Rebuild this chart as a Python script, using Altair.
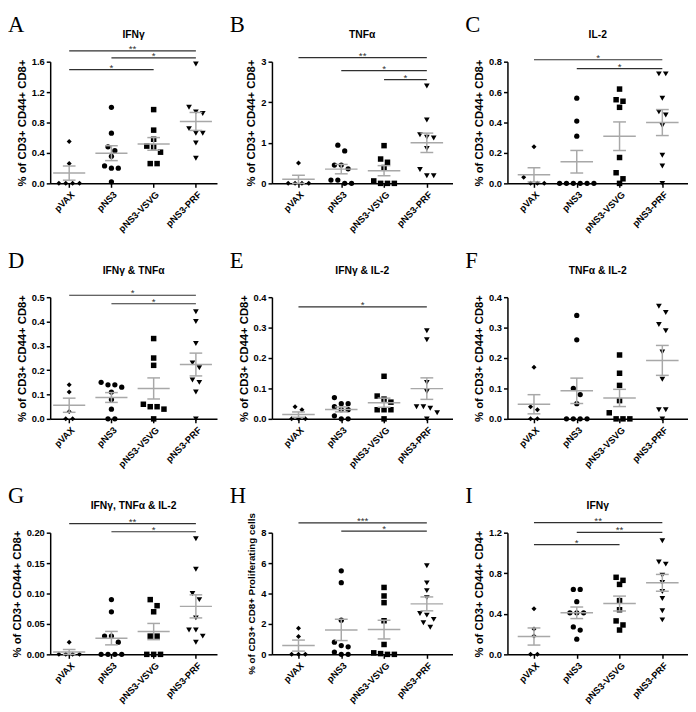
import altair as alt
import pandas as pd
import numpy as np

# ---------------- data ----------------
groups = ["pVAX", "pNS3", "pNS3-VSVG", "pNS3-PRF"]
shapes = ["diamond", "circle", "square", "triangle-down"]

letters = ["A", "B", "C", "D", "E", "F", "G", "H", "I"]
panel_titles = ["IFNγ", "TNFα", "IL-2",
                "IFNγ & TNFα", "IFNγ & IL-2", "TNFα & IL-2",
                "IFNγ, TNFα & IL-2", "", "IFNγ"]
y_titles = ["% of CD3+ CD44+ CD8+"] * 7 + ["% of CD3+ CD8+ Proliferating cells",
                                         "% of CD3+ CD44+ CD4+"]
y_max = [1.6, 3, 0.8, 0.5, 0.4, 0.4, 0.20, 8, 1.2]
y_step = [0.4, 1, 0.2, 0.1, 0.1, 0.1, 0.05, 2, 0.4]
y_fmt = [".1f", "d", ".1f", ".1f", ".1f", ".1f", ".2f", "d", ".1f"]

# values per group: pVAX, pNS3, pNS3-VSVG, pNS3-PRF
A_vals = [[0.55, 0.26, 0, 0, 0, 0],
          [1.00, 0.66, 0.48, 0.43, 0.355, 0.23, 0.20, 0.20, 0.02],
          [0.97, 0.70, 0.58, 0.49, 0.48, 0.41, 0.26, 0.26],
          [1.57, 1.00, 0.94, 0.92, 0.72, 0.66, 0.66, 0.53, 0.33]]
B_vals = [[0.50, 0, 0, 0, 0],
          [0.94, 0.80, 0.45, 0.45, 0.36, 0.08, 0.08, 0, 0],
          [0.93, 0.60, 0.52, 0.39, 0.06, 0, 0, 0],
          [2.40, 1.56, 1.20, 1.12, 1.14, 0.86, 0.34, 0.19, 0.19]]
C_vals = [[0.24, 0.04, 0, 0, 0],
          [0.56, 0.41, 0.31, 0, 0, 0, 0, 0, 0],
          [0.62, 0.55, 0.54, 0.50, 0.17, 0.07, 0.03, 0],
          [0.72, 0.72, 0.56, 0.47, 0.45, 0.38, 0.185, 0.114, 0]]
D_vals = [[0.14, 0.11, 0.03, 0, 0],
          [0.15, 0.14, 0.14, 0.13, 0.11, 0.08, 0.04, 0, 0],
          [0.33, 0.25, 0.22, 0.06, 0.05, 0.04, 0.05, 0],
          [0.44, 0.40, 0.31, 0.23, 0.21, 0.15, 0.16, 0.11, 0]]
E_vals = [[0.04, 0.03, 0, 0, 0],
          [0.07, 0.05, 0.05, 0.04, 0.03, 0.03, 0.01, 0, 0],
          [0.14, 0.075, 0.065, 0.055, 0.03, 0.03, 0.03, 0],
          [0.29, 0.26, 0.12, 0.09, 0.04, 0.04, 0.035, 0.02, 0]]
F_vals = [[0.17, 0.04, 0.03, 0, 0],
          [0.34, 0.26, 0.10, 0.08, 0.05, 0, 0, 0, 0],
          [0.21, 0.15, 0.11, 0.06, 0.02, 0, 0, 0],
          [0.37, 0.35, 0.31, 0.29, 0.22, 0.13, 0.03, 0.03, 0]]
G_vals = [[0.02, 0, 0, 0, 0],
          [0.09, 0.07, 0.03, 0.03, 0.02, 0, 0, 0, 0],
          [0.09, 0.08, 0.07, 0.03, 0.03, 0, 0, 0],
          [0.19, 0.14, 0.10, 0.09, 0.06, 0.04, 0.04, 0.03, 0.02]]
H_vals = [[1.71, 1.17, 0, 0, 0],
          [5.49, 4.71, 2.25, 0.80, 0.58, 0.50, 0.15, 0, 0],
          [4.40, 3.84, 3.40, 2.21, 0.65, 0.10, 0.05, 0, 0],
          [5.83, 4.70, 4.19, 3.73, 2.69, 2.58, 2.30, 2.08, 1.78]]
I_vals = [[0.45, 0.25, 0.18, 0, 0],
          [0.64, 0.64, 0.52, 0.41, 0.41, 0.41, 0.27, 0.24, 0.15],
          [0.76, 0.73, 0.69, 0.53, 0.44, 0.33, 0.29, 0.24],
          [1.12, 0.91, 0.89, 0.78, 0.71, 0.62, 0.55, 0.43, 0.34]]
all_vals = [A_vals, B_vals, C_vals, D_vals, E_vals, F_vals, G_vals, H_vals, I_vals]

# significance brackets: (from group, to group, bracket height in data units, label)
A_sig = [(0, 3, 1.742, "**"), (1, 3, 1.65, "*"), (0, 2, 1.495, "*")]
B_sig = [(0, 3, 3.10, "**"), (1, 3, 2.78, "*"), (2, 3, 2.56, "*")]
C_sig = [(0, 3, 0.813, "*"), (1, 3, 0.755, "*")]
D_sig = [(0, 3, 0.508, "*"), (1, 3, 0.473, "*")]
E_sig = [(0, 3, 0.368, "*")]
F_sig = []
G_sig = [(0, 3, 0.215, "**"), (1, 3, 0.2016, "*")]
H_sig = [(0, 3, 8.64, "***"), (1, 3, 8.10, "*")]
I_sig = [(0, 3, 1.30, "**"), (1, 3, 1.203, "**"), (0, 2, 1.083, "*")]
all_sig = [A_sig, B_sig, C_sig, D_sig, E_sig, F_sig, G_sig, H_sig, I_sig]

# ---------------- layout ----------------
COL_W = [170, 184, 184]
COL_DOM = [(-0.45, 3.5), (-0.62, 3.6), (-0.62, 3.6)]
H = 124
FONT = "Liberation Sans"
GRAY = "#a8a8a8"


def swarm(vals, ymax, ppu, d_px=7.0):
    """Spread points that would overlap into symmetric rows (GraphPad style)."""
    order = sorted(range(len(vals)), key=lambda k: -vals[k])
    rows = []
    for k in order:
        ypx = vals[k] / ymax * H
        if rows and abs(rows[-1][0] - ypx) < d_px * 0.9:
            rows[-1][1].append(k)
        else:
            rows.append([ypx, [k]])
    offs = [0.0] * len(vals)
    for _, members in rows:
        n = len(members)
        for j, k in enumerate(members):
            offs[k] = (j - (n - 1) / 2) * d_px / ppu
    return offs


label_expr = "[" + ",".join("'%s'" % g for g in groups) + "][datum.value]"


def make_panel(p):
    col = p % 3
    W = COL_W[col]
    xmin, xmax = COL_DOM[col]
    ppu = W / (xmax - xmin)
    vals = all_vals[p]
    ymax = y_max[p]
    pts, stats = [], []
    for g, lst in enumerate(vals):
        offs = swarm(lst, ymax, ppu)
        for v, o in zip(lst, offs):
            pts.append({"grp": groups[g], "x": g + o, "value": v})
        arr = np.array(lst, dtype=float)
        m = float(arr.mean())
        s = float(arr.std(ddof=1) / np.sqrt(len(arr)))
        stats.append({"gi": g, "mean": m, "lo": m - s, "hi": m + s,
                      "m1": g - 0.38, "m2": g + 0.38})
    pts = pd.DataFrame(pts)
    stats = pd.DataFrame(stats)
    caps = pd.concat([
        stats.assign(cy=stats["lo"]),
        stats.assign(cy=stats["hi"])])
    caps["c1"] = caps["gi"] - 0.15
    caps["c2"] = caps["gi"] + 0.15

    ticks = [float(round(t, 4)) for t in np.arange(0, ymax + y_step[p] / 2, y_step[p])]
    xscale = alt.Scale(domain=[xmin, xmax], nice=False, zero=False)
    yscale = alt.Scale(domain=[0, ymax], nice=False)
    xaxis = alt.Axis(values=[0, 1, 2, 3], tickCount=4, labelExpr=label_expr, title=None,
                     labelAngle=-45, labelPadding=2, labelOverlap=False)
    yaxis = alt.Axis(values=ticks, tickCount=len(ticks), format=y_fmt[p], title=y_titles[p],
                     titleFontSize=10 if p == 7 else 11.5, titlePadding=4,
                     labelOverlap=False, labelPadding=2)

    points = alt.Chart(pts).mark_point(filled=True, color="black", opacity=1,
                                       strokeWidth=0).encode(
        x=alt.X("x:Q", scale=xscale, axis=xaxis),
        y=alt.Y("value:Q", scale=yscale, axis=yaxis),
        shape=alt.Shape("grp:N", scale=alt.Scale(domain=groups, range=shapes), legend=None),
        size=alt.Size("grp:N", scale=alt.Scale(domain=groups, range=[26, 34, 32, 36]), legend=None),
    )
    mean_rule = alt.Chart(stats).mark_rule(color=GRAY, strokeWidth=1.5).encode(
        x="m1:Q", x2="m2:Q", y="mean:Q")
    sem_rule = alt.Chart(stats).mark_rule(color=GRAY, strokeWidth=1.5).encode(
        x="gi:Q", y="lo:Q", y2="hi:Q")
    cap_rule = alt.Chart(caps).mark_rule(color=GRAY, strokeWidth=1.5).encode(
        x="c1:Q", x2="c2:Q", y="cy:Q")
    layers = [points, mean_rule, sem_rule, cap_rule]

    if all_sig[p]:
        sig = pd.DataFrame(all_sig[p], columns=["a", "b", "level", "label"])
        sig["mid"] = (sig["a"] + sig["b"]) / 2
        layers.append(alt.Chart(sig).mark_rule(color="#303030", strokeWidth=1.2,
                                               clip=False).encode(
            x="a:Q", x2="b:Q", y="level:Q"))
        layers.append(alt.Chart(sig).mark_text(font=FONT, fontSize=10, baseline="middle",
                                               dy=-2, color="#303030", clip=False).encode(
            x="mid:Q", y="level:Q", text="label:N"))

    if panel_titles[p]:
        layers.append(alt.Chart(pd.DataFrame({"t": [panel_titles[p]]})).mark_text(
            font=FONT, fontSize=10.5, fontWeight="bold", color="black",
            baseline="middle", align="center").encode(
            text="t:N", x=alt.value(W / 2), y=alt.value(-27)))

    # panel letter
    layers.append(alt.Chart(pd.DataFrame({"t": [letters[p]]})).mark_text(
        font="Liberation Serif", fontSize=23, color="black",
        baseline="alphabetic", align="left").encode(
        text="t:N", x=alt.value(-43), y=alt.value(-30)))

    return alt.layer(*layers).properties(width=W, height=H)


charts = [make_panel(p) for p in range(9)]

chart = alt.concat(*charts, columns=3, spacing={"row": 17, "column": 13}).properties(
    padding=0
).configure_view(
    stroke=None
).configure_axis(
    grid=False,
    labelFont=FONT, labelFontWeight="bold", labelFontSize=9.5, labelColor="black",
    titleFont=FONT, titleFontWeight="bold", titleColor="black",
    domainColor="black", domainWidth=1.5,
    tickColor="black", tickWidth=1.5, tickSize=4,
)

chart.save("out.html", embed_options={"renderer": "svg", "actions": False})
